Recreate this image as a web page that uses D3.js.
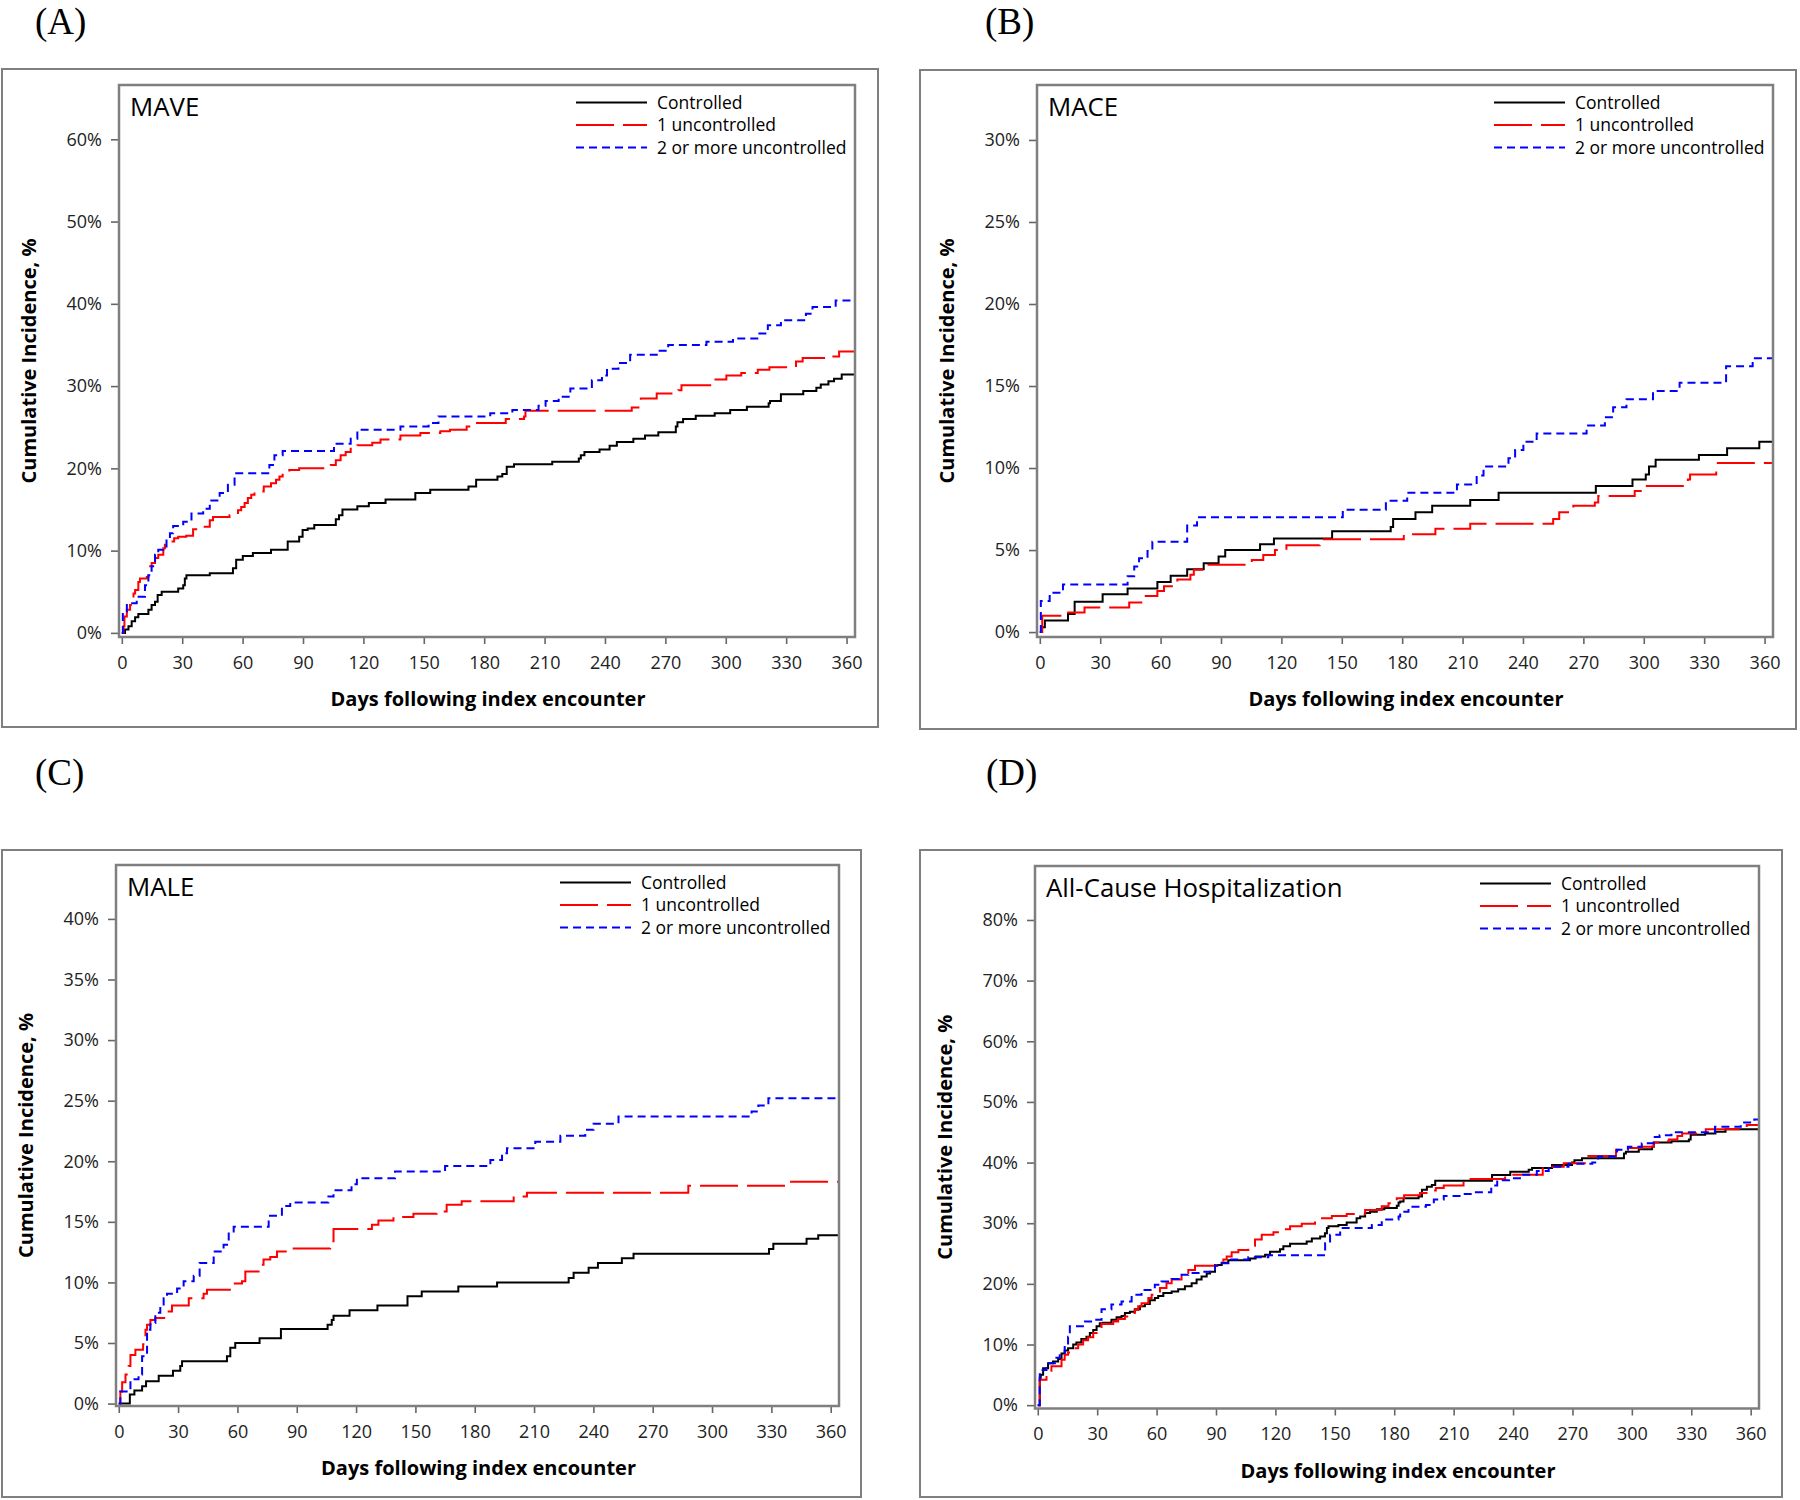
<!DOCTYPE html>
<html><head><meta charset="utf-8">
<script src="https://cdn.jsdelivr.net/npm/d3@7"></script>
<style>body{margin:0;background:#fff} svg{display:block}</style>
</head><body>
<svg id="chart" width="1800" height="1500"></svg>
<script>
// ---------- data ----------
const dayTicks = [0,30,60,90,120,150,180,210,240,270,300,330,360];
const seriesNames = ["Controlled","1 uncontrolled","2 or more uncontrolled"];
const maveTicks = [0,10,20,30,40,50,60];
const maceTicks = [0,5,10,15,20,25,30];
const maleTicks = [0,5,10,15,20,25,30,35,40];
const hospTicks = [0,10,20,30,40,50,60,70,80];

// [day, cumulative incidence %]
const maveControlled = [[0,0],[1.6,0.4],[3.3,0.8],[4.9,1.4],[6.6,1.9],[8.2,2.3],[13.2,2.8],[14.8,3.4],[16.5,3.8],[17.8,4.6],[19.8,5.0],[28,5.4],[30.5,5.8],[31.3,6.6],[32.1,7.0],[43.7,7.25],[55.2,7.85],[56.8,8.9],[60.1,9.35],[65.1,9.7],[74.1,10.1],[82.4,11.1],[88.1,11.7],[89.8,12.5],[92.3,12.7],[95.6,13.1],[106.3,13.8],[107.9,14.3],[109.6,15.0],[117,15.4],[122.7,15.8],[131,16.2],[145.8,17.0],[153.2,17.4],[172.2,17.8],[176,18.6],[186.6,19.0],[189,19.3],[191.2,20.2],[194.8,20.5],[213.8,20.8],[227,21.2],[228,21.6],[229.8,22.0],[237.3,22.3],[242.3,22.75],[245.9,23.2],[254.1,23.6],[259.9,24.0],[266.5,24.4],[275.2,25.1],[276,25.6],[278.8,26.0],[285.1,26.4],[294.5,26.7],[302.2,27.1],[310.5,27.5],[321.3,27.9],[322,28.2],[327.4,29.0],[338.5,29.4],[345,29.8],[347.2,30.2],[351,30.6],[353.8,30.9],[357.6,31.4],[364,31.4]];
const maveOne = [[0,0],[0.8,0.8],[1.3,2.0],[2.5,2.8],[4.1,3.4],[5.8,4.8],[6.6,5.2],[8.2,6.2],[9,6.6],[12.4,6.8],[13.2,8.1],[14.8,8.5],[16.5,9.1],[18.1,9.5],[20.6,10.3],[21.4,10.7],[23,11.1],[26,11.5],[28,11.7],[32,11.8],[35.4,12.6],[40.4,12.9],[43.7,13.7],[45.3,14.1],[53.5,14.3],[57.7,14.9],[59.3,15.3],[61,15.8],[62.6,16.4],[64.3,16.8],[65.9,17.2],[70.5,17.8],[74.1,18.2],[76.6,18.6],[78.3,19.0],[79.9,19.4],[83.2,19.8],[88.1,20.0],[103.8,20.4],[106.3,21.0],[108.7,21.6],[111.2,22.0],[113.7,22.6],[117,22.8],[124.4,23.1],[128.5,23.5],[138.4,24.0],[148.3,24.3],[158.2,24.5],[163,24.7],[171.3,25.1],[174.6,25.5],[190.7,26.0],[199.8,26.3],[200.5,27.0],[253.3,27.4],[257.8,28.5],[265.7,29.1],[276.4,29.5],[278,30.1],[293.7,30.8],[300.3,31.3],[307.7,31.6],[315.9,32.0],[321.7,32.3],[334.9,33.0],[338.2,33.4],[351.3,33.6],[356.3,34.2],[364,34.2]];
const maveTwo = [[0,0],[0.5,2.6],[2.5,3.6],[7.4,4.4],[11.5,5.8],[13.2,7.0],[14.8,8.1],[16.5,9.5],[18.1,10.1],[20.6,10.5],[22.2,11.5],[23.9,12.1],[25.5,13.0],[30.5,13.5],[34.6,14.5],[40.4,15.1],[43.7,16.1],[48.6,17.0],[52.7,18.0],[56,19.4],[73.3,20.4],[75.8,21.6],[79.9,22.1],[105.4,23.0],[113.7,23.6],[117,24.7],[138.4,25.1],[152.4,25.5],[157.3,26.3],[183,26.7],[194,27.1],[207,27.6],[210.5,28.2],[217,28.7],[222.8,29.7],[233.5,30.7],[238.5,31.3],[241,32.1],[246.7,32.8],[252.5,33.8],[266.5,34.3],[271.4,35.0],[290.4,35.4],[303.6,35.8],[316.7,36.4],[320.9,37.4],[327.4,38.0],[339.8,38.8],[343.1,39.6],[354.6,40.4],[364,40.4]];

const maceControlled = [[0,0],[1.1,0.3],[2.5,0.7],[14,1.1],[17.3,1.85],[31.2,2.3],[43.6,2.66],[58.4,3.06],[65,3.43],[73.2,3.83],[81.4,4.2],[88.8,4.6],[92.1,5.0],[109.4,5.35],[116.3,5.7],[145.2,6.15],[174.3,6.4],[175.5,6.9],[186.6,7.3],[194.9,7.7],[213.8,8.05],[227.9,8.5],[276.2,8.9],[294.4,9.3],[301,9.6],[302.6,10.1],[305.9,10.5],[327.4,10.8],[341.4,11.2],[357.4,11.6],[364,11.6]];
const maceOne = [[0,0],[1.2,1.0],[13.2,1.2],[22.2,1.5],[44.4,1.8],[51.8,2.2],[58.4,2.5],[61.7,2.8],[68.3,3.2],[74.8,3.5],[76.5,3.8],[80.6,4.1],[105.3,4.4],[111,4.7],[116.8,5.0],[122.5,5.3],[139,5.66],[180.8,5.96],[196.5,6.3],[213.8,6.6],[255,6.9],[258,7.3],[265,7.7],[275.7,7.9],[277.4,8.3],[295.5,8.6],[300.5,8.9],[321.9,9.3],[323,9.6],[336,10.3],[364,10.3]];
const maceTwo = [[0,0],[0.5,1.9],[4.9,2.4],[11.5,2.9],[43.6,3.4],[46.9,4.0],[49.3,4.5],[53.5,4.95],[55.9,5.5],[73.2,6.5],[78.1,7.0],[150.5,7.45],[171.9,8.0],[182.5,8.5],[207.2,9.0],[217,9.55],[220.4,10.1],[232.8,10.6],[236.1,11.1],[240.2,11.6],[246.8,12.1],[271.6,12.6],[280.7,13.1],[284.8,13.7],[291.4,14.2],[304.6,14.7],[317.8,15.2],[340.9,16.2],[354.1,16.7],[364,16.7]];

const maleControlled = [[0,0],[5.6,0.74],[7.9,1.07],[11.8,1.43],[13.8,1.84],[20.2,2.3],[27.4,2.7],[31.1,3.1],[32,3.5],[54.7,3.9],[56.4,4.6],[58.9,5.0],[71.2,5.4],[82,6.15],[105.6,6.5],[107.7,6.9],[108.6,7.25],[116.7,7.7],[130.8,8.1],[146,8.85],[153.2,9.26],[171.7,9.67],[191.3,10.0],[227.5,10.36],[230,10.8],[237.6,11.2],[242.3,11.6],[254.4,12.0],[260.3,12.36],[328.8,12.75],[331,13.2],[347.8,13.6],[353.7,13.9],[365,13.9]];
const maleOne = [[0,0],[0.8,1.0],[1.7,1.76],[3.4,2.4],[5,3.1],[5.9,4.0],[8.4,4.45],[12.3,4.9],[13.5,6.1],[14.3,6.5],[16,6.9],[18.5,7.06],[24.4,7.6],[26.9,8.1],[35.4,8.7],[42.9,9.07],[44.6,9.4],[58,9.9],[62.3,10.1],[64,10.9],[70.7,11.46],[73.2,11.9],[76.6,12.1],[80,12.55],[85,12.8],[106.9,13.4],[108.6,14.4],[128,14.75],[131.3,15.1],[138.9,15.4],[149,15.66],[160.8,15.85],[165.8,16.4],[173.4,16.7],[199.7,17.1],[206.4,17.4],[288,17.97],[339.4,18.3],[365,18.3]];
const maleTwo = [[0,0],[0.8,1.0],[5.9,2.0],[10,2.4],[11.8,3.9],[14.3,6.1],[16,6.65],[18.5,7.5],[21,8.0],[22.7,8.7],[24.4,9.07],[29.5,9.5],[32.8,10.1],[37.9,10.55],[40.9,11.6],[48,12.55],[53,13.1],[55.6,14.2],[58.1,14.6],[75.8,15.5],[82.5,16.3],[86.7,16.6],[106,17.1],[108.6,17.6],[117.7,18.1],[120.4,18.6],[139.7,19.15],[165,19.6],[187.9,20.1],[193.8,20.66],[196.3,21.07],[210.6,21.6],[223.3,22.1],[235.9,22.6],[240.1,23.1],[252.7,23.7],[320,24.1],[323.4,24.6],[328.5,25.2],[365,25.2]];

const hospControlled = [[0,0],[1,4.5],[1.5,5.0],[2.7,6.1],[5.2,6.9],[7.7,7.2],[10.3,7.6],[12,8.5],[13.6,9.0],[15.3,9.4],[17.9,10.0],[19.5,10.35],[22,10.9],[24.6,11.3],[26.3,11.9],[28,12.4],[29.7,13.0],[31.3,13.5],[33,13.6],[37.2,14.1],[39.8,14.5],[42.3,14.7],[44,15.2],[46.5,15.4],[49,15.8],[51.6,16.3],[54.1,16.7],[56.6,17.3],[59.1,17.65],[60.8,18.0],[63.4,18.5],[67.6,18.75],[70.9,19.1],[74.3,19.6],[77.7,20.1],[80.2,20.7],[82.7,21.2],[85.3,21.7],[87,22.0],[89.5,23.1],[92.9,23.5],[96.2,23.9],[107.2,24.2],[110,24.5],[114.8,24.8],[117.3,25.3],[122.3,25.7],[124,26.2],[127.4,26.6],[135.8,27.0],[138.4,27.5],[142.6,27.8],[145,28.35],[146,29.2],[146.8,29.5],[151.8,29.7],[156,30.1],[161,30.8],[162.8,31.1],[165.3,31.7],[167.8,31.9],[171.2,32.3],[175,32.5],[181.3,32.9],[182.2,33.4],[183,33.6],[184.7,34.1],[192.3,34.4],[194,35.5],[196.5,36.0],[199,36.3],[200.7,37.0],[229.4,37.95],[238.6,38.5],[247.9,38.8],[249.6,39.1],[259.7,39.6],[269.8,40.0],[271,40.4],[274.8,40.7],[296,41.5],[297,41.8],[303.5,42.2],[310.2,42.6],[311.1,43.3],[320,43.5],[328.8,43.8],[329.7,44.6],[337,44.8],[342.2,45.1],[347.3,45.5],[364,45.5]];
const hospOne = [[0,0],[1,4.2],[4.4,5.0],[6.9,6.4],[12,7.5],[13.6,8.3],[15.3,8.7],[17.9,9.4],[20.4,10.0],[22.9,10.7],[25.4,11.2],[28,11.9],[30.5,12.7],[32.2,13.4],[38.1,13.8],[40.6,14.2],[44,14.6],[47.4,15.2],[49,15.7],[50.7,16.3],[52.4,16.8],[55.8,17.65],[57.5,18.2],[60,18.75],[61.7,19.3],[65,20.1],[67.6,20.7],[72.6,21.8],[76,22.3],[79.4,23.0],[90.3,23.4],[93.7,24.0],[95.4,24.5],[97.9,25.2],[101.3,25.6],[106.3,26.3],[109.7,27.3],[113.1,28.1],[119,28.5],[124,29.0],[127.4,29.5],[133.3,29.9],[140,30.6],[141.7,30.8],[148.5,31.2],[156,31.5],[165.3,32.2],[173.7,32.8],[177.1,33.3],[181.3,34.1],[185,34.6],[193,35.0],[197,35.4],[201,35.8],[205,36.2],[215,37.3],[236,38.0],[255,39.3],[265.6,39.9],[278,41.1],[292,42.1],[298,42.4],[305,42.6],[311,43.3],[315,43.5],[318.7,43.8],[323,44.4],[325.4,44.8],[337.3,45.5],[358,46.2],[364,46.2]];
const hospTwo = [[0,0],[1,5.8],[4.4,6.9],[9.4,7.8],[11.1,8.6],[13.6,10.0],[15.3,11.3],[16.2,13.0],[23.8,13.8],[28.8,14.1],[32.2,15.8],[37.2,16.6],[42.3,17.1],[47.4,18.2],[52.4,19.0],[59.1,19.85],[62.5,20.4],[67.6,20.8],[72.6,21.5],[76,21.8],[82.7,22.0],[89.5,23.0],[92.9,23.4],[96.2,24.0],[106.3,24.4],[116.4,24.7],[145.1,26.7],[147.6,28.1],[152.7,29.2],[168.7,29.7],[173.7,30.6],[182.2,31.1],[183,31.9],[187.2,32.7],[196,33.0],[200,33.9],[205,34.5],[215,34.8],[220,35.1],[229,36.2],[232,37.1],[238,37.4],[245,38.0],[252,38.6],[258,39.3],[268,39.8],[280,40.0],[283,41.0],[292.5,42.1],[298,42.6],[305,43.2],[311,44.2],[314,44.5],[320,45.0],[342,45.9],[355,46.6],[361.8,47.1],[364,47.1]];

// ---------- layout ----------
const panels = [
  {label:"(A)", lx:35, ly:34, title:"MAVE", ticks:maveTicks, yDomain:[-0.5,66.6],
   outer:[2,69,878,727], frame:[119,85,855,637], series:[maveControlled,maveOne,maveTwo]},
  {label:"(B)", lx:985, ly:34, title:"MACE", ticks:maceTicks, yDomain:[-0.3,33.35],
   outer:[920,70,1796,729], frame:[1037,85,1773,637], series:[maceControlled,maceOne,maceTwo]},
  {label:"(C)", lx:35, ly:785, title:"MALE", ticks:maleTicks, yDomain:[-0.2,44.45],
   outer:[2,850,861,1497], frame:[116,865,839,1406], series:[maleControlled,maleOne,maleTwo]},
  {label:"(D)", lx:986, ly:785, title:"All-Cause Hospitalization", ticks:hospTicks, yDomain:[-0.55,88.9],
   outer:[920,850,1782,1497], frame:[1035,866,1759,1408.5], series:[hospControlled,hospOne,hospTwo]}
];
const styles = [
  {color:"#000000", dash:null},
  {color:"#ff0000", dash:"38,9"},
  {color:"#0000ff", dash:"8,5"}
];
const FONT = "'Open Sans', 'Noto Sans', sans-serif";

const svg = d3.select("#chart");
svg.append("rect").attr("width",1800).attr("height",1500).attr("fill","#fff");

panels.forEach((p, i) => {
  const [fx0, fy0, fx1, fy1] = p.frame;
  const x = d3.scaleLinear().domain([-1.4, 364.2]).range([fx0, fx1]);
  const y = d3.scaleLinear().domain(p.yDomain).range([fy1, fy0]);
  const g = svg.append("g");

  // panel label
  g.append("text").attr("x", p.lx).attr("y", p.ly)
    .attr("font-family","'Liberation Serif','Times New Roman',serif")
    .attr("font-size", 37).attr("fill","#000").text(p.label);

  // outer box
  const [ox0, oy0, ox1, oy1] = p.outer;
  g.append("rect").attr("x", ox0).attr("y", oy0).attr("width", ox1-ox0).attr("height", oy1-oy0)
    .attr("fill","none").attr("stroke","#7f7f7f").attr("stroke-width",2);

  // clip
  const cid = "clip" + i;
  svg.append("clipPath").attr("id", cid).append("rect")
    .attr("x", fx0).attr("y", fy0).attr("width", fx1-fx0).attr("height", fy1-fy0);

  // axes
  const yAxis = d3.axisLeft(y).tickValues(p.ticks).tickFormat(d => d + "%").tickSize(8).tickPadding(9);
  const ya = g.append("g").attr("transform", `translate(${fx0},0)`).call(yAxis);
  const xAxis = d3.axisBottom(x).tickValues(dayTicks).tickSize(7).tickPadding(12);
  const xa = g.append("g").attr("transform", `translate(0,${fy1})`).call(xAxis);
  [ya, xa].forEach(a => {
    a.select(".domain").remove();
    a.selectAll(".tick line").attr("stroke","#666").attr("stroke-width",1.6);
    a.selectAll(".tick text").attr("font-family", FONT).attr("font-size", 18).attr("fill","#222");
  });

  // axis labels
  g.append("text").attr("x", (fx0+fx1)/2 + 1).attr("y", fy1 + 62).attr("dy","0.35em")
    .attr("text-anchor","middle").attr("font-family", FONT).attr("font-weight","bold")
    .attr("font-size", 20).attr("fill","#000").text("Days following index encounter");
  g.append("text").attr("transform", `translate(${fx0-90},${(fy0+fy1)/2}) rotate(-90)`)
    .attr("dy","0.35em").attr("text-anchor","middle").attr("font-family", FONT).attr("font-weight","bold")
    .attr("font-size", 20).attr("fill","#000").text("Cumulative Incidence, %");

  // series
  const line = d3.line().curve(d3.curveStepAfter).x(d => x(d[0])).y(d => y(d[1]));
  const lg = g.append("g").attr("clip-path", `url(#${cid})`);
  p.series.forEach((s, k) => {
    lg.append("path").attr("d", line(s)).attr("fill","none")
      .attr("stroke", styles[k].color).attr("stroke-width", 2)
      .attr("stroke-dasharray", styles[k].dash);
  });

  // frame
  g.append("rect").attr("x", fx0).attr("y", fy0).attr("width", fx1-fx0).attr("height", fy1-fy0)
    .attr("fill","none").attr("stroke","#7f7f7f").attr("stroke-width",2.5);

  // title
  g.append("text").attr("x", fx0 + 11).attr("y", fy0 + 22).attr("dy","0.35em")
    .attr("font-family", FONT).attr("font-size", 25.8).attr("fill","#000").text(p.title);

  // legend
  seriesNames.forEach((name, k) => {
    const ry = fy0 + 17.5 + k * 22.5;
    g.append("line").attr("x1", fx1 - 279).attr("x2", fx1 - 208).attr("y1", ry).attr("y2", ry)
      .attr("stroke", styles[k].color).attr("stroke-width", 2).attr("stroke-dasharray", styles[k].dash);
    g.append("text").attr("x", fx1 - 198).attr("y", ry).attr("dy","0.35em")
      .attr("font-family", FONT).attr("font-size", 17.5).attr("fill","#000").text(name);
  });
});
</script>
</body></html>
